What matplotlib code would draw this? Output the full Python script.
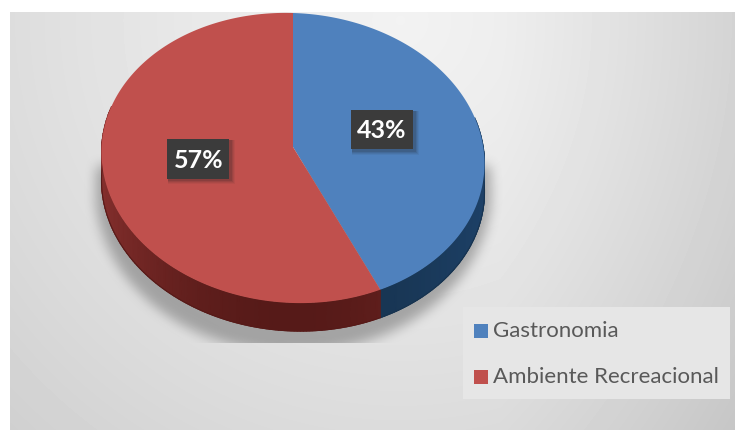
import numpy as np
import matplotlib
matplotlib.use('Agg')
import matplotlib.pyplot as plt
from matplotlib.colors import LinearSegmentedColormap
from matplotlib.patches import Rectangle

categorias = ['Gastronomia', 'Ambiente Recreacional']
valores = [43, 57]
rotulos = ['43%', '57%']
cores = ['#4f81bd', '#c0504d']
cores_lado_a = ['#1d4168', '#852f2d']
cores_lado_b = ['#17334f', '#561a18']

L, A = 735, 430
fig = plt.figure(figsize=(L / 100, A / 100), dpi=100)
ax = fig.add_axes([0, 0, 1, 1])
ax.axis('off')

# fundo com gradiente
yy, xx = np.mgrid[12:A, 10:L]
dist = np.sqrt((xx - 400) ** 2 + (yy - 20) ** 2) / 430
fundo = 0.95 - 0.07 * dist - 0.025 * dist ** 2 - 0.05 * np.clip((xx - 500) / 235, 0, 1)
ax.imshow(fundo, extent=(10, L, A, 12), cmap='gray', vmin=0, vmax=1, zorder=0, aspect='auto')

# geometria da pizza
cx, cy, rx, ry = 293, 158, 191.5, 145
a = 0.076
incl = 0.03
prof = 28


def ponto(theta):
    # theta medido no sentido horario a partir do topo
    u, v = np.sin(theta), np.cos(theta)
    den = 1 + a * v
    x = u * np.sqrt(1 - a ** 2) / den
    s = (v + a) / den
    return cx + rx * x, cy - ry * s + incl * rx * x


angulos = np.cumsum([0] + valores) / sum(valores) * 2 * np.pi

# sombra embaixo da pizza (elipse borrada, cortada embaixo)
gy, gx = np.mgrid[0:A, 0:L]
sombra = (((gx - 293) / 198.0) ** 2 + ((gy - 190) / 162.0) ** 2 < 1).astype(float)
sombra[:165] = 0
janela = np.hanning(31)
janela = janela / janela.sum()
sombra = np.apply_along_axis(lambda c: np.convolve(c, janela, mode='same'), 0, sombra)
sombra = np.apply_along_axis(lambda c: np.convolve(c, janela, mode='same'), 1, sombra)
sombra[343:] = 0
rgba = np.zeros((A, L, 4))
rgba[..., :3] = 0.4
rgba[..., 3] = sombra * 0.5
ax.imshow(rgba, extent=(0, L, A, 0), zorder=1, aspect='auto')

# lateral
for i in range(2):
    t = np.linspace(angulos[i], angulos[i + 1], 240)
    t = t[np.cos(t) < 0.25]
    x, y = ponto(t)
    X = np.vstack([x, x])
    Y = np.vstack([y, y + prof])
    C = np.clip(-np.cos(t), 0, 1) ** 2
    mapa = LinearSegmentedColormap.from_list('lado', [cores_lado_a[i], cores_lado_b[i]])
    ax.pcolormesh(X, Y, np.vstack([C, C]), cmap=mapa, vmin=0, vmax=1, shading='gouraud', zorder=2)
    ax.plot(x, y + prof, color=cores_lado_b[i], lw=0.8, zorder=2)

# faces
for i in range(2):
    t = np.linspace(angulos[i], angulos[i + 1], 240)
    x, y = ponto(t)
    ax.fill(np.r_[cx, x], np.r_[cy - ry * a, y], color=cores[i], lw=0, zorder=3)

# rotulos
caixas = [(382, 129.5), (198.5, 159)]
for (xc, yc), rot in zip(caixas, rotulos):
    for d, alfa in zip([5, 4, 3, 2], [0.06, 0.08, 0.1, 0.14]):
        ax.add_patch(Rectangle((xc - 30, yc - 19), 62 + d, 39 + d, color='#202020', alpha=alfa, lw=0, zorder=4))
    ax.add_patch(Rectangle((xc - 31, yc - 20), 62, 39.5, color='#3b3b3b', lw=0, zorder=5))
    ax.text(xc, yc + 1.5, rot, color='white', fontsize=18, fontweight='bold', family='Lato',
            ha='center', va='center', zorder=6)

# legenda
ax.add_patch(Rectangle((463, 307), 267, 92, color='#e6e6e6', lw=0, zorder=4))
for y, cor, nome in zip([331, 377], cores, categorias):
    ax.add_patch(Rectangle((474, y - 7), 14, 14, color=cor, lw=0, zorder=5))
    ax.text(493, y, nome, color='#595959', fontsize=16, family='Lato', va='center', zorder=5)

ax.set_xlim(0, L)
ax.set_ylim(A, 0)

fig.savefig('out.png', dpi=100)
